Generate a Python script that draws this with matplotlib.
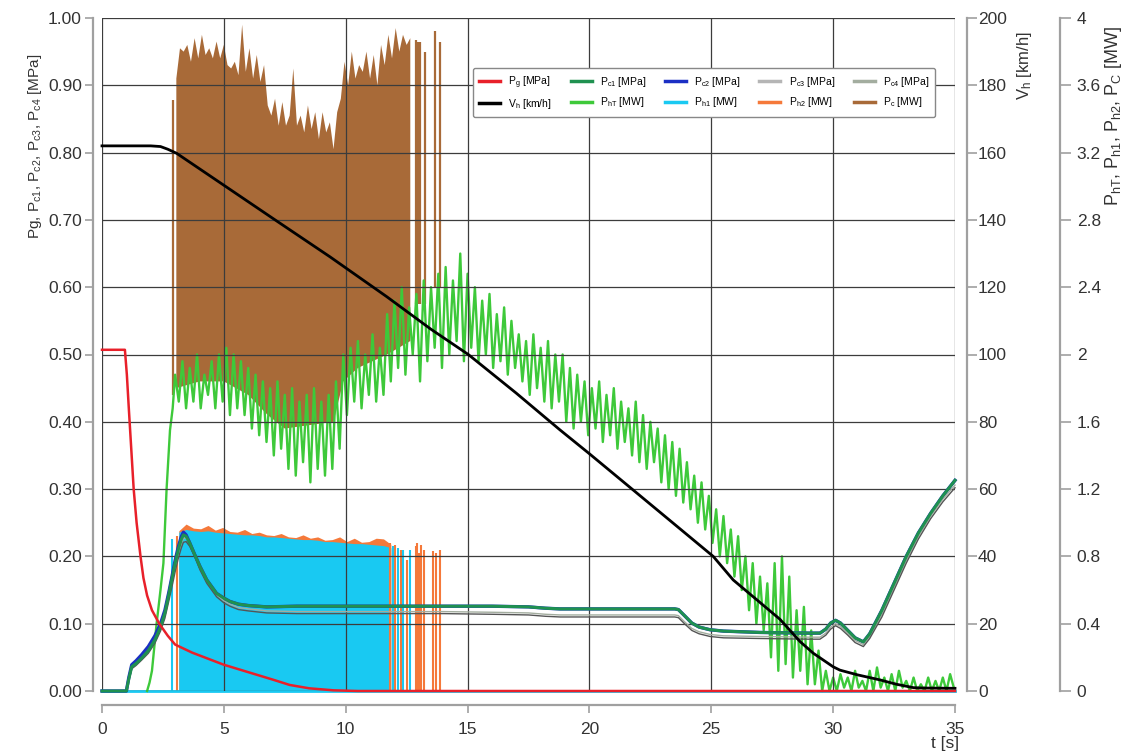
import numpy as np
import matplotlib.pyplot as plt
from matplotlib.lines import Line2D
from matplotlib.ticker import FuncFormatter

plt.rcParams['font.family'] = ['Liberation Sans', 'DejaVu Sans']
plt.rcParams['mathtext.fontset'] = 'custom'
plt.rcParams['mathtext.rm'] = 'Liberation Sans'
plt.rcParams['mathtext.it'] = 'Liberation Sans'
plt.rcParams['mathtext.bf'] = 'Liberation Sans:bold'

# -----------------------------
# data
# -----------------------------
# Pg [MPa]
t_pg = [0, 0.94, 1.02, 1.1, 1.2, 1.3, 1.42, 1.58, 1.7, 1.85, 2.05, 2.35, 2.7, 3.0, 3.7, 5.0, 6.0, 7.0,
        7.7, 8.5, 9.5, 10.5, 35]
pg = [0.507, 0.507, 0.47, 0.42, 0.36, 0.30, 0.25, 0.2, 0.168, 0.142, 0.12, 0.1, 0.082, 0.069, 0.057,
      0.039, 0.028, 0.017, 0.009, 0.004, 0.001, 0.0, 0.0]

# Pc1..Pc4 [MPa]
t_pc = [0, 1.0, 1.1, 1.22, 1.4, 1.63, 1.9, 2.17, 2.4, 2.58, 2.75, 2.86, 3.0, 3.13, 3.25,
        3.34, 3.45, 3.6, 3.8, 4.02, 4.3, 4.7, 5.0, 5.25, 5.6, 6.0, 6.76, 8, 10, 12,
        14, 16, 17.5, 18.2, 18.8, 20, 22, 23.5, 23.65, 23.9, 24.2, 24.5, 24.95, 25.5, 27,
        29.0, 29.46, 29.7, 29.9, 30.1, 30.3, 30.6, 30.9, 31.24, 31.5, 32.0, 32.5, 33.0, 33.5, 34.0,
        34.5, 35]
pc1 = [0, 0, 0.018, 0.036, 0.041, 0.049, 0.06, 0.076, 0.095, 0.116, 0.145, 0.165, 0.19, 0.21, 0.225,
       0.232, 0.23, 0.22, 0.203, 0.185, 0.165, 0.145, 0.138, 0.133, 0.129, 0.127, 0.125, 0.126, 0.126, 0.126,
       0.126, 0.126, 0.125, 0.123, 0.122, 0.122, 0.122, 0.122, 0.121, 0.112, 0.101, 0.095, 0.091, 0.089, 0.087,
       0.086, 0.086, 0.092, 0.101, 0.105, 0.101, 0.09, 0.079, 0.073, 0.085, 0.12, 0.16, 0.2, 0.235, 0.264,
       0.29, 0.313]
pc2 = [0, 0, 0.02, 0.039, 0.045, 0.054, 0.066, 0.082, 0.1, 0.12, 0.148, 0.168, 0.194, 0.214, 0.229,
       0.236, 0.232, 0.22, 0.203, 0.185, 0.165, 0.145, 0.138, 0.133, 0.129, 0.127, 0.125, 0.126, 0.126, 0.126,
       0.126, 0.126, 0.125, 0.123, 0.122, 0.122, 0.122, 0.122, 0.121, 0.112, 0.101, 0.095, 0.091, 0.089, 0.087,
       0.086, 0.086, 0.092, 0.101, 0.105, 0.101, 0.09, 0.079, 0.073, 0.085, 0.12, 0.16, 0.2, 0.235, 0.264,
       0.29, 0.313]
pc3 = [0, 0, 0.016, 0.033, 0.038, 0.046, 0.056, 0.071, 0.089, 0.108, 0.135, 0.153, 0.177, 0.197, 0.212,
       0.221, 0.222, 0.215, 0.2, 0.18, 0.16, 0.14, 0.131, 0.126, 0.121, 0.119, 0.116, 0.115, 0.115, 0.115,
       0.115, 0.114, 0.113, 0.111, 0.110, 0.110, 0.110, 0.110, 0.109, 0.100, 0.090, 0.085, 0.081, 0.079, 0.078,
       0.077, 0.077, 0.083, 0.092, 0.097, 0.093, 0.083, 0.072, 0.066, 0.078, 0.11, 0.15, 0.19, 0.226, 0.256,
       0.281, 0.302]
pc4 = [0, 0, 0.017, 0.034, 0.04, 0.048, 0.059, 0.074, 0.093, 0.112, 0.14, 0.159, 0.183, 0.203, 0.218,
       0.227, 0.227, 0.219, 0.203, 0.184, 0.163, 0.143, 0.134, 0.129, 0.124, 0.122, 0.119, 0.118, 0.118, 0.118,
       0.118, 0.117, 0.116, 0.114, 0.113, 0.113, 0.113, 0.113, 0.112, 0.103, 0.093, 0.088, 0.084, 0.082, 0.081,
       0.080, 0.080, 0.086, 0.095, 0.100, 0.096, 0.086, 0.075, 0.069, 0.081, 0.114, 0.154, 0.194, 0.23, 0.26,
       0.285, 0.306]

# Vh [km/h]
t_vh = [0, 2.0, 2.4, 2.7, 3.06, 5, 7, 9.36, 11.68, 13.5, 15.03, 17, 18.79, 20, 21, 23, 25.08, 25.9,
        27, 27.82, 28.64, 29.19, 30.0, 30.28, 31.0, 31.92, 32.6, 33.29, 33.6, 35]
vh = [162, 162, 161.8, 161, 159.8, 150.3, 140.5, 129, 117.2, 107.5, 100, 88.5, 77.6, 70.5, 64.5, 52.5,
      40, 33, 26.3, 21.3, 14.7, 11.2, 7.2, 6.2, 4.8, 3.3, 2.0, 1.0, 0.9, 0.8]

# PhT [MW]: start-up ramp, then peak / trough pairs every 0.3 s from t = 3.0 s
t_pht_rise = [1.85, 1.95, 2.05, 2.24, 2.4, 2.52, 2.65, 2.79, 2.9]
pht_rise = [0, 0.05, 0.12, 0.40, 0.60, 0.76, 1.20, 1.55, 1.68]
pht_t0 = 3.0
pht_hi = [1.88, 1.96, 1.92, 2.00, 1.88, 1.96, 2.00, 2.04, 2.00, 1.96,
          1.92, 1.88, 1.84, 1.80, 1.84, 1.76, 1.80, 1.72, 1.76, 1.80,
          1.72, 1.76, 1.84, 2.00, 2.04, 2.08, 2.00, 2.12, 2.04, 2.24,
          2.32, 2.40, 2.28, 2.36, 2.44, 2.40, 2.48, 2.52, 2.44, 2.60,
          2.48, 2.40, 2.32, 2.36, 2.24, 2.28, 2.20, 2.12, 2.08, 2.12,
          2.04, 2.08, 2.00, 2.00, 1.92, 1.88, 1.84, 1.80, 1.84, 1.76,
          1.80, 1.72, 1.68, 1.72, 1.64, 1.60, 1.56, 1.52, 1.48, 1.44,
          1.36, 1.28, 1.24, 1.16, 1.08, 1.04, 0.96, 0.92, 0.80, 0.76,
          0.68, 0.64, 0.76, 0.80, 0.68, 0.48, 0.50, 0.36, 0.24, 0.12,
          0.08, 0.10, 0.08, 0.12, 0.06, 0.12, 0.14, 0.08, 0.10, 0.12,
          0.06, 0.08, 0.04, 0.08, 0.06, 0.08, 0.10]
pht_lo = [1.72, 1.68, 1.72, 1.68, 1.76, 1.68, 1.72, 1.64, 1.68, 1.64,
          1.56, 1.52, 1.48, 1.40, 1.44, 1.32, 1.28, 1.36, 1.24, 1.32,
          1.28, 1.32, 1.44, 1.64, 1.72, 1.68, 1.76, 1.72, 1.76, 1.84,
          1.92, 1.88, 2.00, 1.84, 1.96, 2.04, 1.92, 2.00, 2.08, 1.96,
          2.04, 1.96, 2.00, 1.92, 1.96, 1.88, 1.92, 1.84, 1.76, 1.80,
          1.72, 1.68, 1.72, 1.60, 1.56, 1.60, 1.52, 1.56, 1.48, 1.52,
          1.44, 1.48, 1.40, 1.36, 1.32, 1.36, 1.24, 1.20, 1.16, 1.12,
          1.08, 1.00, 0.96, 0.88, 0.80, 0.76, 0.68, 0.60, 0.48, 0.40,
          0.36, 0.20, 0.12, 0.16, 0.08, 0.12, 0.04, 0.04, 0.0, 0.0,
          0.0, 0.02, 0.0, 0.02, 0.0, 0.0, 0.02, 0.0, 0.0, 0.02,
          0.0, 0.0, 0.0, 0.0, 0.0, 0.0, 0.02]

# Pc [MW]: dense part, top sampled every 0.15 s from t = 3.05 s, lower edge
pc_t0 = 3.05
pc_top = [3.64, 3.82, 3.80, 3.84, 3.74, 3.88, 3.76, 3.90, 3.78, 3.82,
          3.76, 3.86, 3.76, 3.84, 3.72, 3.70, 3.74, 3.66, 3.96, 3.68,
          3.82, 3.64, 3.78, 3.62, 3.72, 3.48, 3.42, 3.52, 3.36, 3.50,
          3.36, 3.42, 3.70, 3.36, 3.42, 3.32, 3.48, 3.34, 3.44, 3.28,
          3.44, 3.32, 3.38, 3.22, 3.44, 3.52, 3.74, 3.60, 3.80, 3.64,
          3.72, 3.68, 3.80, 3.64, 3.78, 3.60, 3.84, 3.72, 3.90, 3.76,
          3.94, 3.80, 3.90, 3.84, 3.88]
t_pc_base = [3.05, 4.0, 5.0, 6.0, 6.8, 7.5, 9.5, 9.9, 10.5, 11.7, 12.65]
pc_base = [1.80, 1.84, 1.84, 1.76, 1.64, 1.56, 1.60, 1.84, 1.92, 2.00, 2.08]
# Pc isolated spikes
t_pc_sp = [2.92, 12.87, 12.95, 13.05, 13.25, 13.67, 13.87]
pc_sp_top = [3.51, 3.87, 3.86, 3.86, 3.80, 3.92, 3.86]
pc_sp_bot = [1.76, 2.3, 2.3, 2.3, 2.3, 2.4, 2.4]

# Ph1 / Ph2 [MW]: dense part, top sampled every 0.3 s from t = 3.15 s
ph_t0 = 3.15
ph1_top = [0.944, 0.96, 0.952, 0.948, 0.952, 0.944, 0.94, 0.936, 0.932, 0.928,
           0.928, 0.924, 0.916, 0.916, 0.912, 0.908, 0.904, 0.90, 0.90, 0.896,
           0.888, 0.888, 0.884, 0.88, 0.876, 0.876, 0.872, 0.868, 0.864, 0.852]
ph2_top = [0.952, 0.992, 0.968, 0.964, 0.984, 0.956, 0.972, 0.948, 0.944, 0.96,
           0.936, 0.944, 0.928, 0.924, 0.936, 0.916, 0.912, 0.928, 0.908, 0.916,
           0.896, 0.90, 0.916, 0.888, 0.908, 0.884, 0.888, 0.908, 0.904, 0.872]
t_ph1_sp = [2.86, 11.95, 12.15, 12.37, 12.64]
ph1_sp = [0.904, 0.86, 0.85, 0.84, 0.84]
t_ph2_sp = [3.06, 11.8, 12.02, 12.25, 12.5, 12.87, 12.93, 13.0, 13.1, 13.22, 13.6, 13.72, 13.88]
ph2_sp = [0.92, 0.88, 0.87, 0.84, 0.78, 0.86, 0.88, 0.82, 0.87, 0.84, 0.83, 0.82, 0.84]

# -----------------------------
# colours
# -----------------------------
c_pg = '#e8202a'
c_vh = '#000000'
c_pc1 = '#1f9150'
c_pc2 = '#1b2fc4'
c_pc3 = '#555555'
c_pc4 = '#a3ad9f'
c_pht = '#3ec93a'
c_ph1 = '#19c9f2'
c_ph2 = '#f5793a'
c_pcmw = '#a86a38'
c_axis = '#a0a0a0'
c_text = '#333333'

# -----------------------------
# figure / axes
# -----------------------------
fig = plt.figure(figsize=(11.33, 7.53), dpi=100)
ax = fig.add_axes([102 / 1133, 1 - 691 / 753, 853 / 1133, 673 / 753])
ax_p = ax.twinx()   # MW
ax_v = ax.twinx()   # km/h
ax_p.set_zorder(1)
ax.set_zorder(2)
ax_v.set_zorder(3)
ax.patch.set_visible(False)
ax_v.patch.set_visible(False)

# MW quantities (bottom layer)
tt = pc_t0 + 0.15 * np.arange(len(pc_top))
ax_p.fill(np.concatenate([tt, t_pc_base[::-1]]), np.concatenate([pc_top, pc_base[::-1]]),
          color=c_pcmw, lw=0)
ax_p.vlines(t_pc_sp, pc_sp_bot, pc_sp_top, color=c_pcmw, lw=1.6)

th = ph_t0 + 0.3 * np.arange(len(ph1_top))
ax_p.fill_between(th, 0, ph2_top, color=c_ph2, lw=0)
ax_p.vlines(t_ph2_sp, 0, ph2_sp, color=c_ph2, lw=1.5)
ax_p.fill_between(th, 0, ph1_top, color=c_ph1, lw=0)
ax_p.vlines(t_ph1_sp, 0, ph1_sp, color=c_ph1, lw=1.5)
ax_p.axhline(0, color=c_ph1, lw=2, clip_on=False)

to = pht_t0 + 0.3 * np.arange(len(pht_hi))
x_pht = np.concatenate([t_pht_rise, np.column_stack([to, to + 0.15]).ravel()])
y_pht = np.concatenate([pht_rise, np.column_stack([pht_hi, pht_lo]).ravel()])
ax_p.plot(x_pht, y_pht, color=c_pht, lw=1.7, clip_on=False)

# MPa quantities
ax.plot(t_pc, pc2, color=c_pc2, lw=2.4, clip_on=False)
ax.plot(t_pc, pc4, color=c_pc4, lw=1.0, clip_on=False)
ax.plot(t_pc, pc3, color=c_pc3, lw=1.0, clip_on=False)
ax.plot(t_pc, pc1, color=c_pc1, lw=2.2, clip_on=False)
ax.plot(t_pg, pg, color=c_pg, lw=1.8, clip_on=False)

# speed
ax_v.plot(t_vh, vh, color=c_vh, lw=2.0, clip_on=False)

# limits
ax.set_xlim(0, 35)
ax.set_ylim(0, 1)
ax_v.set_ylim(0, 200)
ax_p.set_ylim(0, 4)

# grid
ax.grid(True, color='#3c3c3c', lw=0.9)
ax.set_axisbelow(True)

# spines
for a in (ax, ax_v, ax_p):
    for s in a.spines.values():
        s.set_visible(False)
ax.spines['left'].set_visible(True)
ax.spines['left'].set_position(('outward', 6.5))
ax.spines['bottom'].set_visible(True)
ax.spines['bottom'].set_position(('outward', 10))
ax_v.spines['right'].set_visible(True)
ax_v.spines['right'].set_position(('axes', (967 - 102) / 853))
ax_p.spines['right'].set_visible(True)
ax_p.spines['right'].set_position(('axes', (1060 - 102) / 853))
for sp in (ax.spines['left'], ax.spines['bottom'], ax_v.spines['right'], ax_p.spines['right']):
    sp.set_color(c_axis)
    sp.set_linewidth(1.6)

# ticks
ax.set_xticks(range(0, 36, 5))
ax.set_yticks(np.linspace(0, 1, 11))
ax.yaxis.set_major_formatter(FuncFormatter(lambda v, p: f"{v:.2f}"))
ax_v.set_yticks(range(0, 201, 20))
ax_p.set_yticks(np.linspace(0, 4, 11))
ax_p.yaxis.set_major_formatter(FuncFormatter(lambda v, p: f"{round(v, 1):g}"))

ax.tick_params(axis='both', direction='out', length=6, width=1.2, color=c_axis,
               labelcolor=c_text, labelsize=12.5)
ax.tick_params(axis='x', pad=6)
ax.tick_params(axis='y', pad=2)
ax_v.tick_params(axis='y', direction='out', length=7, width=1.2, color=c_axis,
                 labelcolor=c_text, labelsize=12.5, pad=1)
ax_p.tick_params(axis='y', direction='out', length=8, width=1.2, color=c_axis,
                 labelcolor=c_text, labelsize=12.5, pad=4)

# axis labels
fig.text(35 / 1133, 1 - 146 / 753, 'Pg, P$_{c1}$, P$_{c2}$, P$_{c3}$, P$_{c4}$ [MPa]',
         rotation=90, ha='center', va='center', fontsize=11, color=c_text)
fig.text(1024 / 1133, 1 - 66 / 753, 'V$_h$ [km/h]',
         rotation=90, ha='center', va='center', fontsize=12, color=c_text)
fig.text(1114 / 1133, 1 - 116 / 753, 'P$_{hT}$, P$_{h1}$, P$_{h2}$, P$_{C}$ [MW]',
         rotation=90, ha='center', va='center', fontsize=13, color=c_text)
fig.text(945 / 1133, 0.002, 't [s]', ha='center', va='bottom', fontsize=12.5, color=c_text)

# legend
handles = [
    Line2D([], [], color=c_pg, lw=2.5, label='P$_g$ [MPa]'),
    Line2D([], [], color=c_vh, lw=2.5, label='V$_h$ [km/h]'),
    Line2D([], [], color=c_pc1, lw=2.5, label='P$_{c1}$ [MPa]'),
    Line2D([], [], color=c_pht, lw=2.5, label='P$_{hT}$ [MW]'),
    Line2D([], [], color=c_pc2, lw=2.5, label='P$_{c2}$ [MPa]'),
    Line2D([], [], color=c_ph1, lw=2.5, label='P$_{h1}$ [MW]'),
    Line2D([], [], color='#b5b5b5', lw=2.5, label='P$_{c3}$ [MPa]'),
    Line2D([], [], color=c_ph2, lw=2.5, label='P$_{h2}$ [MW]'),
    Line2D([], [], color=c_pc4, lw=2.5, label='P$_{c4}$ [MPa]'),
    Line2D([], [], color=c_pcmw, lw=2.5, label='P$_c$ [MW]'),
]
leg = ax_v.legend(handles=handles, ncol=5, loc='center', bbox_to_anchor=(0.706, 0.889),
                  fontsize=7.5, frameon=True, fancybox=True, edgecolor='#888888',
                  handlelength=2.0, columnspacing=1.8, handletextpad=0.8,
                  borderpad=0.6, labelspacing=0.6)
leg.get_frame().set_linewidth(1.0)
leg.get_frame().set_alpha(1)

fig.savefig('out.png', dpi=100)
